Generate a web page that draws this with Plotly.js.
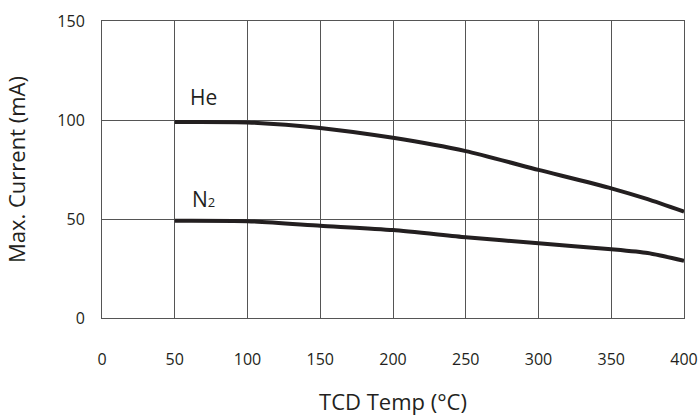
<!DOCTYPE html>
<html>
<head>
<meta charset="utf-8">
<script src="https://cdn.plot.ly/plotly-3.0.1.min.js"></script>
<style>html,body{margin:0;padding:0;background:#fff;}#chart{width:698px;height:416px;}</style>
</head>
<body>
<div id="chart"></div>
<script>
const temps = [50, 100, 150, 200, 250, 300, 350, 375, 400];
const heCurrent = [99, 98.8, 96, 91, 84.3, 74.8, 65.5, 60, 53.7];
const n2Current = [49.1, 48.9, 46.6, 44.4, 40.8, 37.7, 34.7, 32.8, 28.9];
const seriesNames = ["He", "N<span style=\"font-size:13px\">2</span>"];
const xTicks = [0, 50, 100, 150, 200, 250, 300, 350, 400];
const yTicks = [0, 50, 100, 150];

const lineStyle = {color: '#231f20', width: 4, shape: 'spline', smoothing: 0.6};
const data = [
  {x: temps, y: heCurrent, type: 'scatter', mode: 'lines', line: lineStyle, name: 'He', hoverinfo: 'none'},
  {x: temps, y: n2Current, type: 'scatter', mode: 'lines', line: lineStyle, name: 'N2', hoverinfo: 'none'}
];
const font = {family: '"Open Sans", "Noto Sans", sans-serif', color: '#231f20'};
const layout = {
  width: 698, height: 416,
  margin: {l: 102, r: 14, t: 21, b: 98},
  paper_bgcolor: '#fff', plot_bgcolor: '#fff',
  showlegend: false,
  font: Object.assign({size: 16}, font),
  xaxis: {
    range: [0, 400], tickvals: xTicks, ticktext: xTicks.map(String),
    showgrid: true, gridcolor: '#555', gridwidth: 1,
    showline: true, linecolor: '#555', linewidth: 1, mirror: true,
    zeroline: false, ticks: '', ticklabelstandoff: 27,
    tickfont: {size: 16},
    title: {text: 'TCD Temp (°C)', font: {size: 22}, standoff: 27}
  },
  yaxis: {
    range: [0, 150], tickvals: yTicks, ticktext: yTicks.map(String),
    showgrid: true, gridcolor: '#555', gridwidth: 1,
    showline: true, linecolor: '#555', linewidth: 1, mirror: true,
    zeroline: false, ticks: '', ticklabelstandoff: 13,
    tickfont: {size: 16},
    title: {text: 'Max. Current (mA)', font: {size: 22}, standoff: 25}
  },
  annotations: [
    {x: 70, y: 111.6, xref: 'x', yref: 'y', text: seriesNames[0], showarrow: false, xanchor: 'center', yanchor: 'middle', font: {size: 21}},
    {x: 70, y: 60.1, xref: 'x', yref: 'y', text: seriesNames[1], showarrow: false, xanchor: 'center', yanchor: 'middle', font: {size: 21}}
  ]
};
Plotly.newPlot('chart', data, layout, {staticPlot: true, displayModeBar: false});
</script>
</body>
</html>
